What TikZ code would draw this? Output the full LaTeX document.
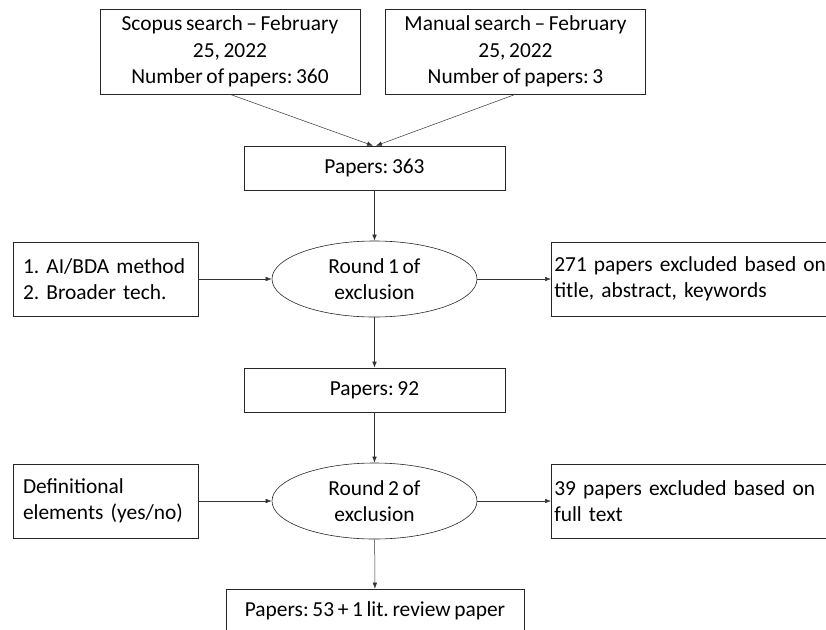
\documentclass[tikz,border=0pt]{standalone}
\usepackage{fontspec}
\setmainfont[WordSpace=0.75]{Carlito}
\usetikzlibrary{shapes.geometric,arrows.meta}

\tikzset{
  searchbox/.style={draw=black!85, line width=0.6pt, align=center, minimum width=260pt, minimum height=85pt, inner sep=2pt},
  countbox/.style={draw=black!85, line width=0.6pt, align=center, minimum width=261pt, minimum height=44pt, inner sep=2pt},
  critbox/.style={draw=black!85, line width=0.6pt, align=left, text width=165pt, minimum height=74pt, inner xsep=10pt},
  exclbox/.style={draw=black!85, line width=0.6pt, align=left, text width=300pt, minimum height=74pt, inner xsep=3pt, anchor=west},
  roundell/.style={ellipse, draw=black!85, line width=0.6pt, align=center, minimum width=205pt, minimum height=76pt, inner sep=0pt},
  link/.style={-{Latex[length=6pt,width=4.5pt]}, draw=black!80, line width=0.5pt}
}

\begin{document}
\frenchspacing
\begin{tikzpicture}[x=1pt,y=-1pt,font=\fontsize{21.4}{26.5}\selectfont]
    \useasboundingbox (0,0) rectangle (826,629);
    \clip (0,0) rectangle (826,629);

    \node[searchbox] (scopus) at (230,51.5) {Scopus search -- February\\25, 2022\\Number of papers: 360};
    \node[searchbox] (manual) at (515.5,51.5) {Manual search -- February\\25, 2022\\Number of papers: 3};
    \node[countbox] (p363) at (374.5,168) {Papers: 363};

    \node[roundell] (round1) at (374.5,279) {Round 1 of\\exclusion};
    \node[critbox] (crit1) at (105.5,279) {1. AI/BDA method\\2. Broader tech.};
    \node[exclbox] (excl1) at (551,279) {271 papers excluded based on\\title, abstract, keywords};
    \node[countbox] (p92) at (374.5,390) {Papers: 92};

    \node[roundell] (round2) at (374.5,501) {Round 2 of\\exclusion};
    \node[critbox] (crit2) at (105.5,501) {Definitional\\elements (yes/no)};
    \node[exclbox] (excl2) at (551,501) {39 papers excluded based on\\full text};
    \node[countbox, minimum width=298pt] (final) at (375,611) {Papers: 53 + 1 lit. review paper};

    \draw[link] (scopus.south) -- ([xshift=-1.5pt]p363.north);
    \draw[link] (manual.south) -- ([xshift=1.5pt]p363.north);
    \draw[link] (p363) -- (round1);
    \draw[link] (crit1) -- (round1);
    \draw[link] (round1) -- (excl1);
    \draw[link] (round1) -- (p92);

    \draw[link] (p92) -- (round2);
    \draw[link] (crit2) -- (round2);
    \draw[link] (round2) -- (excl2);
    \draw[link] (round2) -- (final);
\end{tikzpicture}
\end{document}
